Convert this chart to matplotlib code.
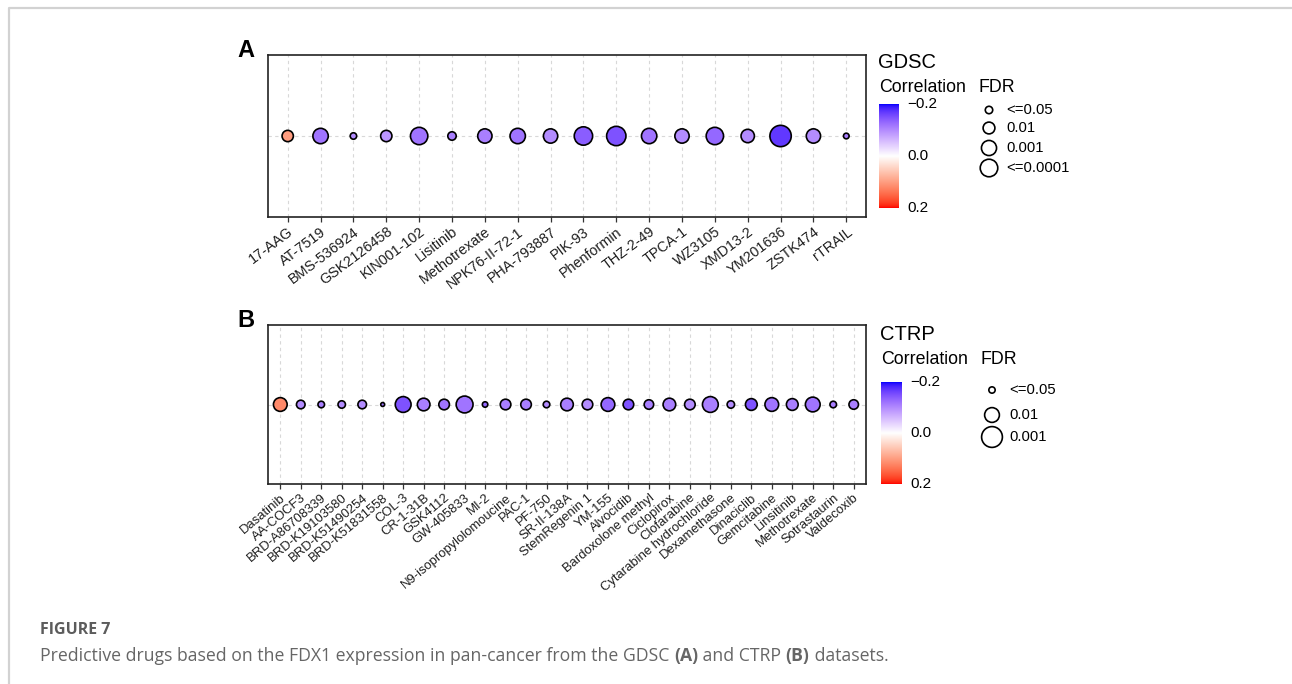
import matplotlib
matplotlib.use("Agg")
import matplotlib.pyplot as plt
import numpy as np
from matplotlib.colors import ListedColormap, Normalize

# ---- data ----
gdsc_drugs = ["17-AAG", "AT-7519", "BMS-536924", "GSK2126458", "KIN001-102", "Lisitinib",
              "Methotrexate", "NPK76-II-72-1", "PHA-793887", "PIK-93", "Phenformin",
              "THZ-2-49", "TPCA-1", "WZ3105", "XMD13-2", "YM201636", "ZSTK474", "rTRAIL"]
gdsc_corr = [0.10, -0.12, -0.10, -0.09, -0.12, -0.11, -0.11, -0.12, -0.10, -0.14, -0.15,
             -0.12, -0.10, -0.13, -0.10, -0.17, -0.10, -0.11]
gdsc_fdr = [0.013, 8e-4, 0.057, 0.013, 1.2e-4, 0.04, 0.0019, 8e-4, 0.0019, 4e-5, 1.3e-5,
            8e-4, 0.0019, 1.2e-4, 0.0038, 1e-6, 0.0019, 0.06]

ctrp_drugs = ["Dasatinib", "AA-COCF3", "BRD-A86708339", "BRD-K19103580", "BRD-K51490254",
              "BRD-K51831558", "COL-3", "CR-1-31B", "GSK4112", "GW-405833", "MI-2",
              "N9-isopropylolomoucine", "PAC-1", "PF-750", "SR-II-138A", "StemRegenin 1",
              "YM-155", "Alvocidib", "Bardoxolone methyl", "Ciclopirox", "Clofarabine",
              "Cytarabine hydrochloride", "Dexamethasone", "Dinaciclib", "Gemcitabine",
              "Linsitinib", "Methotrexate", "Sotrastaurin", "Valdecoxib"]
ctrp_corr = [0.12, -0.10, -0.11, -0.10, -0.10, -0.12, -0.15, -0.11, -0.12, -0.12, -0.13,
             -0.11, -0.11, -0.10, -0.11, -0.10, -0.13, -0.15, -0.11, -0.11, -0.10, -0.11,
             -0.10, -0.15, -0.12, -0.11, -0.12, -0.11, -0.11]
ctrp_fdr = [0.0135, 0.039, 0.049, 0.045, 0.039, 0.056, 0.0072, 0.018, 0.028, 0.005, 0.053,
            0.028, 0.028, 0.049, 0.018, 0.028, 0.0135, 0.028, 0.034, 0.018, 0.028, 0.0072,
            0.045, 0.022, 0.0135, 0.022, 0.01, 0.049, 0.034]

gdsc_fdr_breaks = [0.05, 0.01, 0.001, 0.0001]
gdsc_fdr_labels = ["<=0.05", "0.01", "0.001", "<=0.0001"]
ctrp_fdr_breaks = [0.05, 0.01, 0.001]
ctrp_fdr_labels = ["<=0.05", "0.01", "0.001"]
corr_ticks = [-0.2, 0.0, 0.2]
corr_tick_labels = ["\u22120.2", "0.0", "0.2"]

W, H = 1292, 684
plt.rcParams["font.family"] = ["Liberation Sans", "DejaVu Sans"]


# ---- Lab-interpolated blue-white-red scale (like ggplot gradient2) ----
def srgb_to_lab(rgb):
    c = np.asarray(rgb, float)
    lin = np.where(c <= 0.04045, c / 12.92, ((c + 0.055) / 1.055) ** 2.4)
    m = np.array([[0.4124, 0.3576, 0.1805], [0.2126, 0.7152, 0.0722], [0.0193, 0.1192, 0.9505]])
    xyz = m @ lin / np.array([0.95047, 1.0, 1.08883])
    f = np.where(xyz > 0.008856, np.cbrt(xyz), 7.787 * xyz + 16 / 116)
    return np.array([116 * f[1] - 16, 500 * (f[0] - f[1]), 200 * (f[1] - f[2])])


def lab_to_srgb(lab):
    L, a, b = lab
    fy = (L + 16) / 116
    fx = fy + a / 500
    fz = fy - b / 200
    f = np.array([fx, fy, fz])
    xyz = np.where(f ** 3 > 0.008856, f ** 3, (f - 16 / 116) / 7.787) * np.array([0.95047, 1.0, 1.08883])
    mi = np.array([[3.2406, -1.5372, -0.4986], [-0.9689, 1.8758, 0.0415], [0.0557, -0.2040, 1.0570]])
    lin = np.clip(mi @ xyz, 0, 1)
    return np.clip(np.where(lin <= 0.0031308, 12.92 * lin, 1.055 * lin ** (1 / 2.4) - 0.055), 0, 1)


lab_low = srgb_to_lab([0, 0, 1])
lab_mid = srgb_to_lab([1, 1, 1])
lab_high = srgb_to_lab([1, 0, 0])
cols = []
for t in np.linspace(-1, 1, 256):
    if t < 0:
        lab = lab_mid + (-t) * (lab_low - lab_mid)
    else:
        lab = lab_mid + t * (lab_high - lab_mid)
    cols.append(lab_to_srgb(lab))
cmap = ListedColormap(cols)
norm = Normalize(-0.2, 0.2)

EDGE_LW = 1.2


def marker_s(fdr, v0, d0, k):
    v = -np.log10(np.asarray(fdr, float))
    d_px = d0 + k * np.sqrt(np.clip(v - v0, 0, None))
    d_pt = d_px * 0.72 - EDGE_LW
    return d_pt ** 2


fig = plt.figure(figsize=(W / 100, H / 100), dpi=100)
ov = fig.add_axes([0, 0, 1, 1])
ov.set_xlim(0, W)
ov.set_ylim(H, 0)
ov.axis("off")

# page frame
ov.plot([9, 9, W], [H, 7.5, 7.5], color="#d2d2d2", lw=1.6, solid_capstyle="butt")


def px_axes(left, top, right, bottom):
    return fig.add_axes([left / W, 1 - bottom / H, (right - left) / W, (bottom - top) / H])


def panel(box, drugs, corr, fdr, size_par, letter, rot, fs):
    ax = px_axes(*box)
    n = len(drugs)
    x = np.arange(1, n + 1)
    ax.set_xlim(0.4, n + 0.6)
    ax.set_ylim(0.4, 1.6)
    for xi in x:
        ax.axvline(xi, color="#d8d8d8", lw=0.8, ls=(0, (3, 3)), zorder=0)
    ax.axhline(1, color="#d8d8d8", lw=0.8, ls=(0, (3, 3)), zorder=0)
    ax.scatter(x, np.ones(n), s=marker_s(fdr, *size_par), c=corr, cmap=cmap, norm=norm,
               edgecolors="black", linewidths=EDGE_LW, zorder=3)
    ax.set_xticks(x)
    ax.set_xticklabels(drugs, rotation=rot, ha="right", va="top", rotation_mode="anchor",
                       fontsize=fs, color="#1e1e1e")
    ax.set_yticks([])
    ax.tick_params(axis="x", length=3.5, width=0.9, color="#333333", pad=2)
    for sp in ax.spines.values():
        sp.set_linewidth(1.2)
        sp.set_color("#222222")
    ov.text(box[0] - 31, box[1] + 7, letter, fontsize=17, fontweight="bold", ha="left", va="bottom")
    return ax


def side_legend(title, tx, ty, cb_box, fdr_x, fdr_ys, breaks, labels, size_par):
    ov.text(tx, ty, title, fontsize=14.5, ha="left", va="center")
    ov.text(cb_box[0], ty + 25, "Correlation", fontsize=12.8, ha="left", va="center")
    ov.text(fdr_x - 11, ty + 25, "FDR", fontsize=12.8, ha="left", va="center")
    cax = px_axes(*cb_box)
    cax.imshow(np.linspace(-0.2, 0.2, 256)[:, None], cmap=cmap, norm=norm, aspect="auto",
               extent=(0, 1, 0.2, -0.2))
    cax.set_ylim(0.2, -0.2)
    cax.axis("off")
    top, bottom = cb_box[1], cb_box[3]
    for v, lab in zip(corr_ticks, corr_tick_labels):
        yy = top + (v + 0.2) / 0.4 * (bottom - top)
        ov.text(cb_box[2] + 8, yy, lab, fontsize=11, ha="left", va="center")
    ov.scatter([fdr_x] * len(breaks), fdr_ys, s=marker_s(breaks, *size_par), facecolors="white",
               edgecolors="black", linewidths=EDGE_LW)
    for yy, lab in zip(fdr_ys, labels):
        ov.text(fdr_x + 17, yy, lab, fontsize=10.7, ha="left", va="center")


size_a = (1.22, 7.0, 7.32)
size_b = (1.25, 5.0, 13.2)

panel((268, 55, 866, 217), gdsc_drugs, gdsc_corr, gdsc_fdr, size_a, "A", 37, 10.4)
panel((268, 325, 866, 484), ctrp_drugs, ctrp_corr, ctrp_fdr, size_b, "B", 40, 9.4)

side_legend("GDSC", 878, 63, (879, 104, 899, 208), 989, [110, 128, 148, 168],
            gdsc_fdr_breaks, gdsc_fdr_labels, size_a)
side_legend("CTRP", 880, 335, (881, 382, 902, 484), 992, [390, 415, 437],
            ctrp_fdr_breaks, ctrp_fdr_labels, size_b)

# caption
cap_font = ["Open Sans", "DejaVu Sans"]
ov.text(40, 630, "FIGURE 7", fontsize=11.5, fontweight="bold", color="#5c5c5c",
        family=cap_font, ha="left", va="center")
runs = [("Predictive drugs based on the FDX1 expression in pan-cancer from the GDSC ", "normal"),
        ("(A)", "bold"), (" and CTRP ", "normal"), ("(B)", "bold"), (" datasets.", "normal")]
renderer = fig.canvas.get_renderer()
cap_fs = 12.7
xpos = 40
for txt, wt in runs:
    ov.text(xpos, 656, txt, fontsize=cap_fs, fontweight=wt, color="#666666",
            family=cap_font, ha="left", va="center")
    # measure with a marker char so trailing spaces count
    probe = ov.text(0, 0, txt + "|", fontsize=cap_fs, fontweight=wt, family=cap_font)
    bar = ov.text(0, 0, "|", fontsize=cap_fs, fontweight=wt, family=cap_font)
    w = probe.get_window_extent(renderer).width - bar.get_window_extent(renderer).width
    probe.remove()
    bar.remove()
    xpos += w

fig.savefig("out.png", dpi=100)
